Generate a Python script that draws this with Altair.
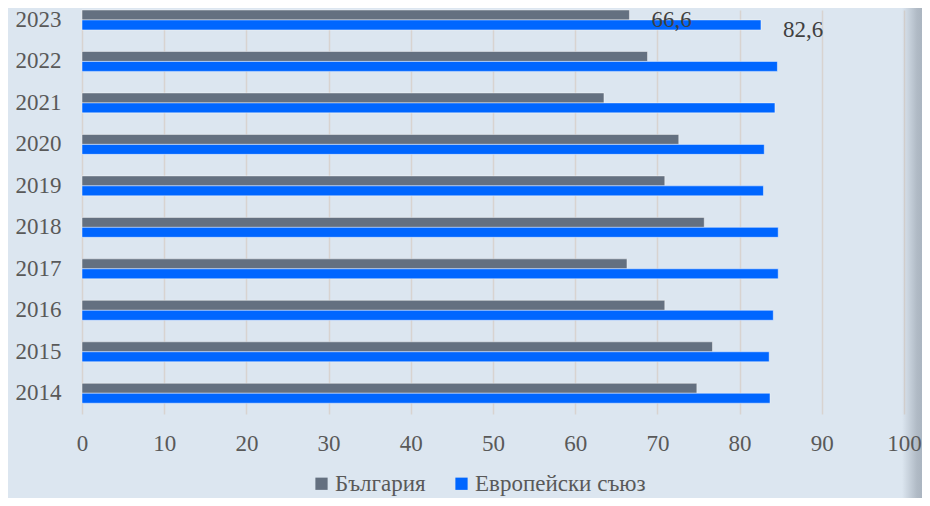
import altair as alt
import pandas as pd

years = ["2023", "2022", "2021", "2020", "2019", "2018", "2017", "2016", "2015", "2014"]
bulgaria = [66.6, 68.8, 63.5, 72.6, 70.9, 75.7, 66.3, 70.9, 76.7, 74.8]
eu = [82.6, 84.6, 84.3, 83.0, 82.9, 84.7, 84.7, 84.1, 83.6, 83.7]
series = ["България", "Европейски съюз"]
colors = ["#647080", "#0066ff"]
label_year = "2023"
x_ticks = [0, 10, 20, 30, 40, 50, 60, 70, 80, 90, 100]

rows = []
for i, y in enumerate(years):
    rows.append({"year": y, "series": series[0], "value": bulgaria[i],
                 "label": f"{bulgaria[i]:.1f}".replace(".", ",")})
    rows.append({"year": y, "series": series[1], "value": eu[i],
                 "label": f"{eu[i]:.1f}".replace(".", ",")})
df = pd.DataFrame(rows)

FONT = "Liberation Serif"
TXT = "#595959"

xscale = alt.Scale(domain=[0, 100], nice=False)

y_enc = alt.Y("year:N", sort=years, title=None,
              scale=alt.Scale(paddingInner=0.52, paddingOuter=0.13, align=0),
              axis=alt.Axis(labelFont=FONT, labelFontSize=23, labelColor=TXT,
                            labelPadding=21, ticks=False, tickSize=0, domain=False, grid=False))
x_grid = alt.X("value:Q", title=None, scale=xscale,
               axis=alt.Axis(values=x_ticks, labels=False, ticks=False, tickSize=0,
                             domain=False, grid=True, gridColor="#d8d3d0", gridWidth=1.5,
                             orient="bottom"))
x_lab = alt.X("value:Q", title=None, scale=xscale,
              axis=alt.Axis(values=x_ticks, labelFont=FONT, labelFontSize=23, labelColor=TXT,
                            labelPadding=18, labelFlush=False, ticks=False, tickSize=0,
                            domain=False, grid=False, orient="bottom", zindex=1))
yoff = alt.YOffset("series:N", sort=series, scale=alt.Scale(paddingInner=0, paddingOuter=0))

bars = alt.Chart(df).mark_bar(strokeWidth=1, strokeOpacity=0.45, stroke="#ffffff").encode(
    y=y_enc, x=x_grid, yOffset=yoff,
    color=alt.Color("series:N", sort=series,
                    scale=alt.Scale(domain=series, range=colors),
                    legend=alt.Legend(title=None, orient="none", direction="horizontal",
                                      legendX=228, legendY=462,
                                      symbolType="square", symbolSize=150,
                                      symbolStrokeWidth=0, symbolOpacity=1,
                                      labelFont=FONT, labelFontSize=23, labelColor=TXT,
                                      labelLimit=0, labelOffset=2, columnPadding=24))
)

labels = alt.Chart(df).transform_filter(
    alt.datum.year == label_year
).mark_text(align="left", baseline="middle", dx=22, dy=5,
            font=FONT, fontSize=23, color="#404040").encode(
    y=alt.Y("year:N", sort=years), x=x_lab, yOffset=yoff, text="label:N"
)

shadow = alt.Chart(pd.DataFrame({"k": [0]})).mark_rect(
    color=alt.Gradient(gradient="linear",
                       stops=[alt.GradientStop(color="rgba(140,150,162,0)", offset=0),
                              alt.GradientStop(color="rgba(140,150,162,0.55)", offset=0.5),
                              alt.GradientStop(color="rgba(140,150,162,0.75)", offset=1)],
                       x1=0, x2=1, y1=0, y2=0)
).encode(x=alt.value(820), x2=alt.value(850), y=alt.value(-8), y2=alt.value(500))

chart = alt.layer(bars, labels, shadow).resolve_axis(x="independent").properties(
    width=822, height=404,
    autosize=alt.AutoSizeParams(type="none"),
    padding={"left": 74, "top": 2, "right": 18, "bottom": 84},
    background="#dce6f0",
).configure_view(stroke=None, fill="#dce6f0")

chart.save("out.html", embed_options={"renderer": "svg", "actions": False})
